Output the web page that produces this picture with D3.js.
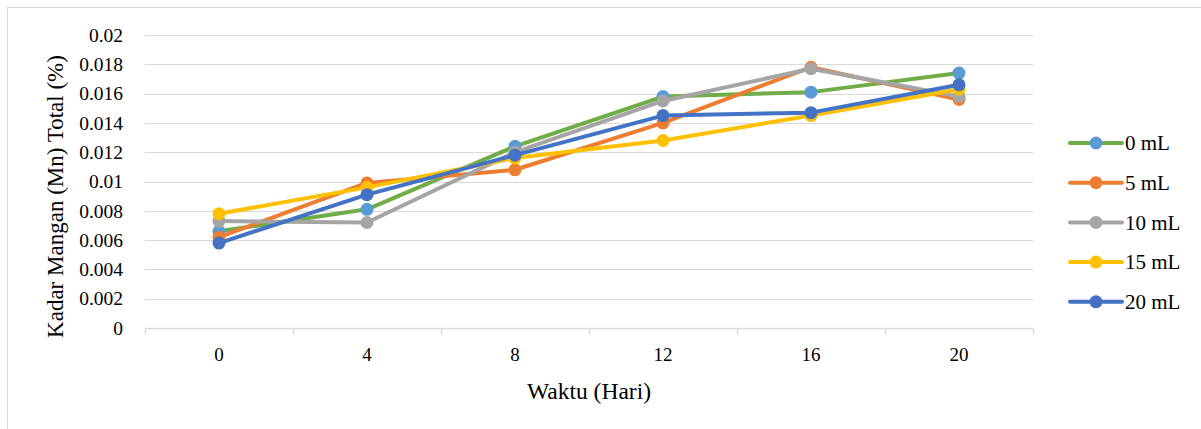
<!DOCTYPE html>
<html>
<head>
<meta charset="utf-8">
<script src="https://cdn.jsdelivr.net/npm/d3@7"></script>
<style>
  html, body { margin: 0; padding: 0; background: #fff; }
  svg { display: block; }
</style>
</head>
<body>
<svg id="chart" width="1201" height="429"></svg>
<script>
const categories = ["0", "4", "8", "12", "16", "20"];
const seriesNames = ["0 mL", "5 mL", "10 mL", "15 mL", "20 mL"];
const values0 = [0.0066, 0.0081, 0.0124, 0.0158, 0.0161, 0.0174];
const values5 = [0.0062, 0.0099, 0.0108, 0.0140, 0.0178, 0.0156];
const values10 = [0.0073, 0.0072, 0.0120, 0.0155, 0.0177, 0.0158];
const values15 = [0.0078, 0.0096, 0.0116, 0.0128, 0.0145, 0.0163];
const values20 = [0.0058, 0.0091, 0.0118, 0.0145, 0.0147, 0.0166];
const yTicks = [0, 0.002, 0.004, 0.006, 0.008, 0.01, 0.012, 0.014, 0.016, 0.018, 0.02];
const lineColors = ["#70AD47", "#ED7D31", "#A5A5A5", "#FFC000", "#4472C4"];
const markerColors = ["#5B9BD5", "#ED7D31", "#A5A5A5", "#FFC000", "#4472C4"];
const xTitle = "Waktu (Hari)";
const yTitle = "Kadar Mangan (Mn) Total (%)";

const allValues = [values0, values5, values10, values15, values20];

(function () {
const FONT = "font-family: 'Times New Roman', Times, 'Liberation Serif', Tinos, 'DejaVu Serif', serif; fill: #000;";
const svg = d3.select("#chart");
const pLeft = 145, pRight = 1033, pTop = 35, pBottom = 328;

// outer border (only top/left visible)
svg.append("rect").attr("x", 7.5).attr("y", 7.5).attr("width", 1300).attr("height", 600)
  .attr("fill", "none").attr("stroke", "#d9d9d9").attr("stroke-width", 1);

const x = d3.scaleBand().domain(categories).range([pLeft, pRight]).padding(0);
const y = d3.scaleLinear().domain([0, 0.02]).range([pBottom, pTop]);

// gridlines
svg.append("g").selectAll("line").data(yTicks.filter(d => d > 0)).join("line")
  .attr("x1", pLeft).attr("x2", pRight)
  .attr("y1", d => Math.round(y(d)) + 0.5).attr("y2", d => Math.round(y(d)) + 0.5)
  .attr("stroke", "#d9d9d9").attr("stroke-width", 1);

// y axis labels
const yAxis = d3.axisLeft(y).tickValues(yTicks).tickSize(0).tickPadding(0)
  .tickFormat(d => d === 0 ? "0" : String(+d.toFixed(3)));
const gy = svg.append("g").attr("transform", `translate(${pLeft - 22},0)`).call(yAxis);
gy.attr("font-size", 19.5);
gy.select(".domain").remove();
gy.selectAll("text").attr("style", FONT);

// x axis
const gx = svg.append("g").attr("transform", `translate(0,${pBottom + 0.5})`);
gx.append("line").attr("x1", pLeft).attr("x2", pRight).attr("y1", 0).attr("y2", 0)
  .attr("stroke", "#d9d9d9").attr("stroke-width", 1.5);
const boundaries = categories.map(c => x(c)).concat([x(categories[categories.length - 1]) + x.bandwidth()]);
gx.selectAll("line.tick").data(boundaries).join("line").attr("class", "tick")
  .attr("x1", d => Math.round(d) + 0.5).attr("x2", d => Math.round(d) + 0.5)
  .attr("y1", 0).attr("y2", 6).attr("stroke", "#d9d9d9").attr("stroke-width", 1.5);
gx.selectAll("text").data(categories).join("text")
  .attr("x", d => x(d) + x.bandwidth() / 2).attr("y", 32.5).attr("style", FONT)
  .attr("text-anchor", "middle").attr("font-size", 19).text(d => d);

// titles
svg.append("text").attr("x", (pLeft + pRight) / 2).attr("y", 399).attr("text-anchor", "middle")
  .attr("style", FONT).attr("font-size", 23.5).text(xTitle);
svg.append("text").attr("transform", `translate(63,${(pTop + pBottom) / 2 + 15}) rotate(-90)`)
  .attr("text-anchor", "middle").attr("style", FONT).attr("font-size", 23).text(yTitle);

// lines
const line = d3.line().x((d, i) => x(categories[i]) + x.bandwidth() / 2).y(d => y(d));
allValues.forEach((vals, s) => {
  const g = svg.append("g");
  g.append("path").datum(vals).attr("d", line).attr("fill", "none")
    .attr("stroke", lineColors[s]).attr("stroke-width", 4).attr("stroke-linejoin", "round").attr("stroke-linecap", "round");
  g.selectAll("circle").data(vals).join("circle")
    .attr("cx", (d, i) => x(categories[i]) + x.bandwidth() / 2).attr("cy", d => y(d))
    .attr("r", 6.5).attr("fill", markerColors[s]);
});

// legend
const lg = svg.append("g");
seriesNames.forEach((name, s) => {
  const cy = 143 + s * 39.7;
  lg.append("line").attr("x1", 1070).attr("x2", 1122).attr("y1", cy).attr("y2", cy)
    .attr("stroke", lineColors[s]).attr("stroke-width", 4).attr("stroke-linecap", "round");
  lg.append("circle").attr("cx", 1096).attr("cy", cy).attr("r", 6.5).attr("fill", markerColors[s]);
  lg.append("text").attr("x", 1125).attr("y", cy).attr("dy", "0.35em").attr("style", FONT)
    .attr("font-size", 21).text(name);
});
})();
</script>
</body>
</html>
